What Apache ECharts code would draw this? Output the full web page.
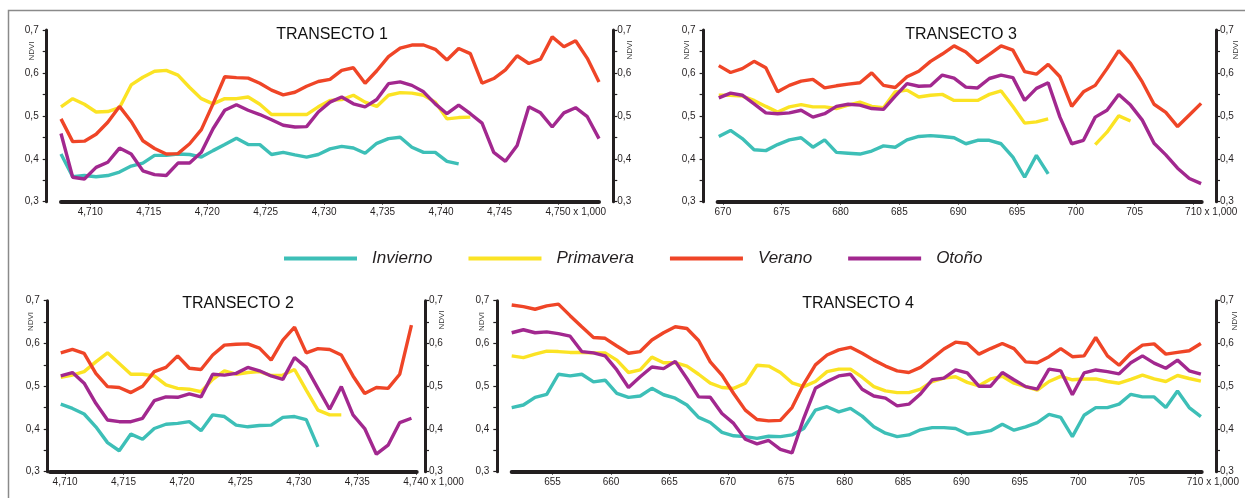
<!DOCTYPE html>
<html>
<head>
<meta charset="utf-8">
<title>NDVI por transecto</title>
<script src="https://cdn.jsdelivr.net/npm/echarts@6.0.0/dist/echarts.min.js"></script>
<style>
html, body { margin: 0; padding: 0; background: #fff; }
#main { width: 1245px; height: 498px; }
</style>
</head>
<body>
<div id="main"></div>
<script>
var seasons = ['Invierno', 'Primavera', 'Verano', 'Otoño'];
var colors = ['#3dbfb7', '#fbe324', '#ef4527', '#a2288f'];

// transecto 1 (km x 1.000), un valor por km
var t1Start = 4707.5;
var t1Ticks = [4710, 4715, 4720, 4725, 4730, 4735, 4740, 4745, 4750];
var t1Invierno = [0.411,0.358,0.361,0.358,0.361,0.369,0.383,0.390,0.408,0.408,0.411,0.410,0.404,0.419,0.433,0.448,0.433,0.433,0.410,0.415,0.409,0.404,0.410,0.423,0.429,0.425,0.413,0.436,0.447,0.450,0.427,0.415,0.415,0.394,0.388];
var t1Primavera = [0.521,0.540,0.527,0.509,0.510,0.519,0.572,0.590,0.604,0.606,0.595,0.566,0.540,0.528,0.540,0.540,0.544,0.527,0.503,0.503,0.503,0.503,0.521,0.536,0.538,0.548,0.532,0.522,0.548,0.554,0.553,0.548,0.532,0.493,0.496,0.497];
var t1Verano = [0.493,0.440,0.441,0.457,0.485,0.522,0.487,0.442,0.424,0.411,0.412,0.435,0.468,0.528,0.591,0.589,0.588,0.576,0.560,0.549,0.555,0.569,0.580,0.585,0.606,0.612,0.576,0.605,0.638,0.658,0.665,0.665,0.655,0.630,0.657,0.645,0.576,0.587,0.607,0.640,0.622,0.632,0.684,0.661,0.675,0.634,0.579];
var t1Otono = [0.459,0.357,0.353,0.380,0.392,0.425,0.411,0.372,0.363,0.361,0.390,0.390,0.415,0.470,0.513,0.526,0.513,0.503,0.491,0.478,0.474,0.475,0.509,0.532,0.544,0.528,0.521,0.538,0.575,0.579,0.571,0.556,0.528,0.505,0.525,0.505,0.483,0.415,0.394,0.431,0.521,0.507,0.474,0.507,0.519,0.498,0.447];

// transecto 2
var t2Start = 4709.63;
var t2Ticks = [4710, 4715, 4720, 4725, 4730, 4735, 4740];
var t2Invierno = [0.458,0.448,0.435,0.405,0.368,0.349,0.388,0.376,0.401,0.411,0.413,0.417,0.396,0.433,0.429,0.409,0.405,0.408,0.409,0.427,0.429,0.422,0.358];
var t2Primavera = [0.521,0.526,0.534,0.557,0.578,0.553,0.528,0.528,0.524,0.503,0.495,0.493,0.487,0.516,0.536,0.528,0.532,0.534,0.525,0.526,0.539,0.491,0.444,0.433,0.433];
var t2Verano = [0.578,0.586,0.577,0.530,0.499,0.497,0.485,0.500,0.534,0.544,0.571,0.542,0.539,0.573,0.596,0.598,0.599,0.589,0.561,0.608,0.638,0.578,0.588,0.586,0.573,0.524,0.483,0.497,0.495,0.528,0.643];
var t2Otono = [0.524,0.532,0.507,0.460,0.421,0.417,0.417,0.425,0.466,0.475,0.474,0.482,0.475,0.528,0.526,0.530,0.544,0.536,0.524,0.516,0.567,0.544,0.495,0.446,0.499,0.433,0.401,0.341,0.362,0.415,0.425];

// transecto 3
var t3Start = 669.65;
var t3Ticks = [670, 675, 680, 685, 690, 695, 700, 705, 710];
var t3Invierno = [0.452,0.466,0.447,0.421,0.419,0.433,0.444,0.449,0.427,0.444,0.415,0.413,0.411,0.418,0.430,0.427,0.444,0.452,0.454,0.452,0.449,0.435,0.443,0.443,0.435,0.404,0.357,0.408,0.365];
var t3Primavera = [0.548,0.548,0.546,0.536,0.522,0.509,0.521,0.526,0.521,0.521,0.517,0.525,0.532,0.522,0.519,0.556,0.560,0.544,0.548,0.550,0.536,0.536,0.536,0.550,0.558,0.522,0.483,0.486,0.493,null,null,null,0.433,0.462,0.500,0.488];
var t3Verano = [0.617,0.601,0.610,0.627,0.612,0.556,0.571,0.581,0.585,0.565,0.570,0.574,0.577,0.600,0.571,0.566,0.591,0.604,0.627,0.644,0.663,0.649,0.624,0.643,0.663,0.653,0.603,0.597,0.620,0.591,0.522,0.556,0.571,0.610,0.652,0.622,0.579,0.527,0.508,0.475,0.502,0.529];
var t3Otono = [0.542,0.553,0.548,0.528,0.507,0.505,0.507,0.513,0.497,0.505,0.522,0.527,0.525,0.517,0.515,0.546,0.575,0.569,0.570,0.595,0.588,0.567,0.565,0.587,0.595,0.589,0.536,0.564,0.577,0.497,0.435,0.443,0.497,0.513,0.550,0.525,0.490,0.436,0.409,0.378,0.354,0.342];

// transecto 4
var t4Start = 651.5;
var t4Ticks = [655, 660, 665, 670, 675, 680, 685, 690, 695, 700, 705, 710];
var t4Invierno = [0.450,0.456,0.474,0.481,0.528,0.524,0.528,0.510,0.514,0.483,0.474,0.477,0.495,0.480,0.472,0.456,0.427,0.415,0.392,0.384,0.382,0.378,0.383,0.382,0.386,0.401,0.444,0.452,0.440,0.448,0.430,0.405,0.390,0.382,0.386,0.398,0.403,0.403,0.401,0.388,0.391,0.396,0.411,0.397,0.405,0.415,0.434,0.427,0.382,0.432,0.450,0.450,0.458,0.481,0.475,0.475,0.450,0.489,0.450,0.429];
var t4Primavera = [0.571,0.567,0.575,0.582,0.581,0.579,0.579,0.578,0.578,0.561,0.532,0.538,0.568,0.555,0.555,0.547,0.528,0.507,0.497,0.495,0.507,0.549,0.547,0.532,0.508,0.499,0.511,0.534,0.540,0.540,0.521,0.499,0.489,0.485,0.485,0.493,0.511,0.519,0.522,0.509,0.501,0.517,0.523,0.507,0.499,0.491,0.511,0.523,0.515,0.517,0.517,0.511,0.507,0.516,0.526,0.517,0.511,0.525,0.518,0.512];
var t4Verano = [0.690,0.686,0.680,0.688,0.692,0.665,0.639,0.614,0.612,0.594,0.577,0.581,0.608,0.625,0.639,0.635,0.607,0.557,0.526,0.483,0.444,0.422,0.419,0.420,0.450,0.505,0.550,0.573,0.585,0.591,0.577,0.561,0.547,0.536,0.532,0.544,0.565,0.587,0.603,0.600,0.575,0.588,0.600,0.588,0.557,0.555,0.569,0.588,0.569,0.571,0.614,0.571,0.549,0.577,0.596,0.599,0.575,0.579,0.583,0.600];
var t4Otono = [0.625,0.632,0.625,0.627,0.623,0.617,0.581,0.578,0.571,0.538,0.497,0.522,0.545,0.541,0.558,0.518,0.475,0.474,0.436,0.413,0.376,0.365,0.373,0.352,0.344,0.425,0.495,0.511,0.524,0.528,0.493,0.477,0.472,0.454,0.458,0.482,0.515,0.519,0.538,0.531,0.500,0.500,0.532,0.515,0.499,0.493,0.540,0.536,0.480,0.531,0.538,0.534,0.529,0.555,0.571,0.554,0.542,0.561,0.536,0.528];

var ink = '#231f20';
var font = '"Liberation Sans", Arial, sans-serif';
var unitSuffix = ' x 1,000';

// posicion de cada panel en la pagina
var panels = [
    {title: 'TRANSECTO 1', tx: 332, ty: 27, left: 61, top: 30, width: 538, height: 171.7,
     min: 4707.5, max: 4753.5, offL: 14.3, offR: 14.3, start: t1Start, ticks: t1Ticks,
     lines: [t1Invierno, t1Primavera, t1Verano, t1Otono]},
    {title: 'TRANSECTO 3', tx: 961, ty: 27, left: 717.6, top: 30, width: 484.1, height: 171.7,
     min: 669.55, max: 710.7, offL: 14, offR: 14.3, start: t3Start, ticks: t3Ticks,
     lines: [t3Invierno, t3Primavera, t3Verano, t3Otono]},
    {title: 'TRANSECTO 2', tx: 238, ty: 296, left: 50, top: 300.7, width: 366.7, height: 171,
     min: 4708.71, max: 4740.08, offL: 2.3, offR: 8.3, start: t2Start, ticks: t2Ticks,
     lines: [t2Invierno, t2Primavera, t2Verano, t2Otono]},
    {title: 'TRANSECTO 4', tx: 858, ty: 296, left: 511.7, top: 300.7, width: 690, height: 171,
     min: 651.5, max: 710.57, offL: 14.4, offR: 14.3, start: t4Start, ticks: t4Ticks,
     lines: [t4Invierno, t4Primavera, t4Verano, t4Otono]}
];

function kmLabel(v) {
    v = Math.round(v);
    if (v >= 1000) {
        return Math.floor(v / 1000) + ',' + String(v % 1000).padStart(3, '0');
    }
    return String(v);
}

function toPairs(start, values) {
    return values.map(function (v, i) {
        return [start + i, v === null ? '-' : v];
    });
}

var measureCtx = document.createElement('canvas').getContext('2d');
measureCtx.font = '10px ' + font;
function textWidth(s) {
    return measureCtx.measureText(s).width;
}

function yAxisFor(p, idx, side) {
    var right = side === 'right';
    return {
        type: 'value', gridIndex: idx, position: side,
        offset: right ? p.offR : p.offL,
        min: 0.3, max: 0.7, interval: 0.1,
        axisLine: {show: true, lineStyle: {color: ink, width: 3}},
        axisTick: {show: true, length: 4, lineStyle: {color: ink, width: 1.2}},
        minorTick: {show: true, splitNumber: 2, length: 4, lineStyle: {color: ink, width: 1.2}},
        axisLabel: {
            fontSize: 10, color: ink, fontFamily: font, margin: right ? 4 : 8,
            formatter: function (v) { return v.toFixed(1).replace('.', ','); }
        },
        splitLine: {show: false}
    };
}

var grids = [], xAxes = [], yAxes = [], titles = [], series = [];
panels.forEach(function (p, idx) {
    grids.push({left: p.left, top: p.top, width: p.width, height: p.height});
    titles.push({
        text: p.title, left: p.tx, top: p.ty, textAlign: 'center', padding: 0,
        textStyle: {fontSize: 16, fontWeight: 'normal', color: '#111', fontFamily: font}
    });
    // el sufijo " x 1,000" va como nombre del eje, pegado a la ultima cifra
    var last = p.ticks[p.ticks.length - 1];
    var pxPerUnit = p.width / (p.max - p.min);
    var gap = (last - p.max) * pxPerUnit + textWidth(kmLabel(last)) / 2;
    xAxes.push({
        type: 'value', gridIndex: idx, min: p.min, max: p.max,
        name: unitSuffix, nameLocation: 'end', nameGap: gap, nameMoveOverlap: false,
        nameTextStyle: {fontSize: 10, color: ink, fontFamily: font, align: 'left',
                        verticalAlign: 'top', padding: [6, 0, 0, 0]},
        axisLine: {show: true, onZero: false, lineStyle: {color: ink, width: 4}},
        axisTick: {show: true, customValues: p.ticks, length: 3, lineStyle: {color: ink, width: 1}},
        axisLabel: {
            customValues: p.ticks, fontSize: 10, color: ink, fontFamily: font, margin: 6,
            formatter: kmLabel
        },
        splitLine: {show: false}
    });
    yAxes.push(yAxisFor(p, idx, 'left'));
    yAxes.push(yAxisFor(p, idx, 'right'));
    p.lines.forEach(function (vals, s) {
        series.push({
            name: seasons[s], type: 'line',
            xAxisIndex: idx, yAxisIndex: idx * 2,
            data: toPairs(p.start, vals),
            showSymbol: false, symbol: 'none',
            lineStyle: {color: colors[s], width: 3.4},
            itemStyle: {color: colors[s]},
            z: 2 + s
        });
    });
});

// etiquetas NDVI verticales junto a cada eje
var ndviPos = [[31.7, 51], [630, 50], [686.7, 50], [1236, 50],
               [30.7, 321.5], [441.7, 320], [481.7, 321.5], [1235, 321]];
var graphics = [{
    type: 'rect', silent: true,
    shape: {x: 8.5, y: 10.5, width: 1400, height: 700},
    style: {fill: null, stroke: '#8a8a8a', lineWidth: 1.5}
}];
ndviPos.forEach(function (pt) {
    graphics.push({
        type: 'text', x: pt[0], y: pt[1], rotation: Math.PI / 2, silent: true,
        style: {text: 'NDVI', fontSize: 8, fill: '#333', fontFamily: font,
                align: 'center', verticalAlign: 'middle'}
    });
});

var myChart = echarts.init(document.getElementById('main'), null, {renderer: 'canvas'});
var option = {
    backgroundColor: '#fff',
    animation: false,
    textStyle: {fontFamily: font},
    title: titles,
    legend: {
        data: seasons, left: 279, top: 245, icon: 'rect',
        itemWidth: 73, itemHeight: 4, itemGap: 36,
        textStyle: {fontSize: 17, fontStyle: 'italic', color: ink, fontFamily: font, padding: [0, 0, 0, 10]}
    },
    grid: grids,
    xAxis: xAxes,
    yAxis: yAxes,
    graphic: graphics,
    series: series
};
myChart.setOption(option);
</script>
</body>
</html>
